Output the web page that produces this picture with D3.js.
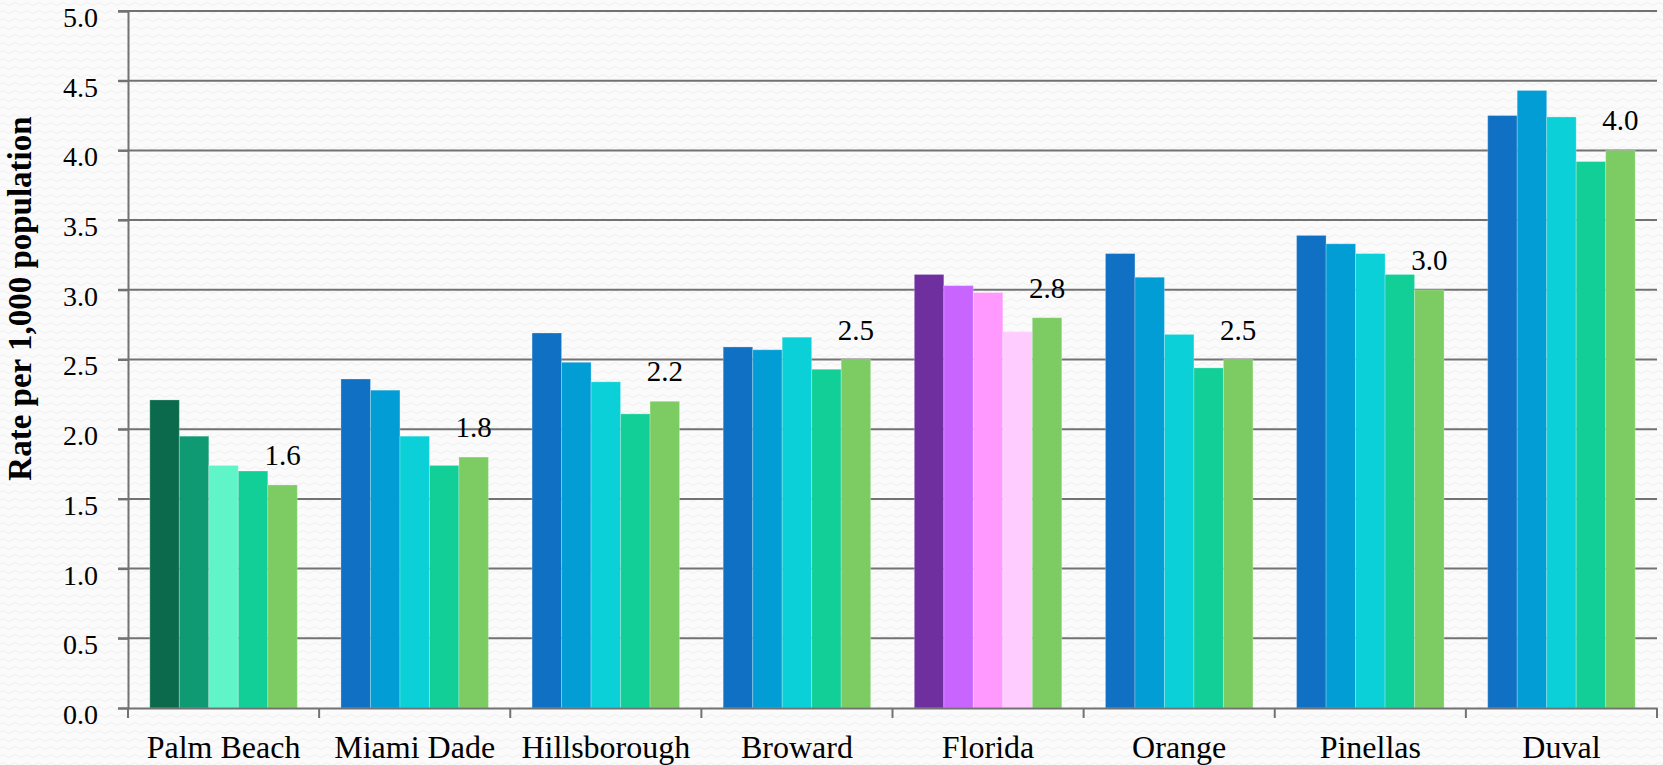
<!DOCTYPE html>
<html>
<head>
<meta charset="utf-8">
<script src="https://cdn.jsdelivr.net/npm/d3@7"></script>
<style>
  html, body { margin: 0; padding: 0; background: #fafafa; }
  svg { display: block; }
  text { font-family: "Liberation Serif", "Times New Roman", serif; fill: #000; }
</style>
</head>
<body>
<svg id="chart" width="1663" height="765"></svg>
<script>
// ---- data ----
const categories = ["Palm Beach", "Miami Dade", "Hillsborough", "Broward", "Florida", "Orange", "Pinellas", "Duval"];
const seriesNames = ["s1", "s2", "s3", "s4", "s5"];
const s1 = [2.21, 2.36, 2.69, 2.59, 3.11, 3.26, 3.39, 4.25];
const s2 = [1.95, 2.28, 2.48, 2.57, 3.03, 3.09, 3.33, 4.43];
const s3 = [1.74, 1.95, 2.34, 2.66, 2.98, 2.68, 3.26, 4.24];
const s4 = [1.70, 1.74, 2.11, 2.43, 2.70, 2.44, 3.11, 3.92];
const s5 = [1.60, 1.80, 2.20, 2.50, 2.80, 2.50, 3.00, 4.00];
const yTicks = [0, 0.5, 1, 1.5, 2, 2.5, 3, 3.5, 4, 4.5, 5];
const yTitle = "Rate per 1,000 population";

const defaultColors = ["#1070c4", "#039dd6", "#0bd0d8", "#12cf98", "#7ccc63"];
const palmBeachColors = ["#0a6a4b", "#0f9a73", "#60f5c9", "#12cf98", "#7ccc63"];
const floridaColors = ["#6f2f9f", "#c865ff", "#ff99ff", "#ffccff", "#7ccc63"];

const allSeries = [s1, s2, s3, s4, s5];

// ---- layout ----
const svg = d3.select("#chart");
const W = 1663, H = 765;
const margin = { left: 128, right: 6, top: 11, bottom: 57 };
const x0 = d3.scaleBand().domain(categories).range([margin.left, W - margin.right]).paddingInner(0).paddingOuter(0);
const x1 = d3.scaleBand().domain(seriesNames).range([0, x0.bandwidth()]).paddingInner(0).paddingOuter(0.74);
const y = d3.scaleLinear().domain([0, 5]).range([H - margin.bottom, margin.top]);

// background wavy pattern
const defs = svg.append("defs");
const pat = defs.append("pattern").attr("id", "wave").attr("patternUnits", "userSpaceOnUse")
  .attr("width", 12).attr("height", 8);
pat.append("rect").attr("width", 12).attr("height", 8).attr("fill", "#fbfbfb");
pat.append("path").attr("d", "M0 4 Q3 1 6 4 T12 4").attr("fill", "none").attr("stroke", "#efefef").attr("stroke-width", 1);
svg.append("rect").attr("width", W).attr("height", H).attr("fill", "url(#wave)");

// gridlines
const gridColor = "#727272";
svg.append("g")
  .selectAll("line")
  .data(yTicks.filter(d => d > 0))
  .join("line")
  .attr("x1", margin.left - 10)
  .attr("x2", W - margin.right)
  .attr("y1", d => y(d))
  .attr("y2", d => y(d))
  .attr("stroke", gridColor)
  .attr("stroke-width", 2);

// bars
const colorFor = (ci, si) => {
  const c = categories[ci];
  if (c === "Palm Beach") return palmBeachColors[si];
  if (c === "Florida") return floridaColors[si];
  return defaultColors[si];
};

const barData = [];
categories.forEach((c, ci) => {
  allSeries.forEach((s, si) => {
    barData.push({ cat: c, ci, series: seriesNames[si], si, value: s[ci] });
  });
});

svg.append("g")
  .selectAll("rect")
  .data(barData)
  .join("rect")
  .attr("x", d => x0(d.cat) + x1(d.series))
  .attr("y", d => y(d.value))
  .attr("width", x1.bandwidth())
  .attr("height", d => y(0) - y(d.value))
  .attr("fill", d => colorFor(d.ci, d.si))
  .attr("stroke", "rgba(255,255,255,0.25)")
  .attr("stroke-width", 1);

// value labels on last series
svg.append("g")
  .selectAll("text")
  .data(categories.map((c, ci) => ({ cat: c, value: s5[ci] })))
  .join("text")
  .attr("x", d => x0(d.cat) + x1("s5") + x1.bandwidth() / 2)
  .attr("y", d => y(d.value) - 20)
  .attr("text-anchor", "middle")
  .attr("font-size", 29)
  .text(d => d3.format(".1f")(d.value));

// y axis
const yAxis = d3.axisLeft(y).tickValues(yTicks).tickFormat(d3.format(".1f")).tickSize(10).tickPadding(20);
const gy = svg.append("g").attr("transform", `translate(${margin.left},0)`).call(yAxis);
gy.select(".domain").attr("stroke", gridColor).attr("stroke-width", 2);
gy.selectAll(".tick line").attr("stroke", gridColor).attr("stroke-width", 2);
gy.selectAll(".tick text").attr("font-size", 28).attr("font-family", "Liberation Serif").attr("fill", "#000")
  .attr("dy", "0.55em");

// x axis
const xAxis = d3.axisBottom(x0).tickSize(0).tickPadding(0);
const gx = svg.append("g").attr("transform", `translate(0,${y(0)})`).call(xAxis);
gx.select(".domain").attr("stroke", gridColor).attr("stroke-width", 2);
gx.selectAll(".tick text").attr("font-size", 32).attr("font-family", "Liberation Serif").attr("fill", "#000")
  .attr("dy", null).attr("y", 50);
// boundary tick marks between categories
const boundaries = categories.map(c => x0(c)).concat([x0.range()[1]]);
gx.append("g").selectAll("line")
  .data(boundaries)
  .join("line")
  .attr("x1", d => d).attr("x2", d => d)
  .attr("y1", 0).attr("y2", 10)
  .attr("stroke", gridColor).attr("stroke-width", 2);

// y title
svg.append("text")
  .attr("transform", `translate(31, ${(y(5) + y(0)) / 2 - 61}) rotate(-90)`)
  .attr("text-anchor", "middle")
  .attr("font-size", 33)
  .attr("font-weight", "bold")
  .text(yTitle);
</script>
</body>
</html>
